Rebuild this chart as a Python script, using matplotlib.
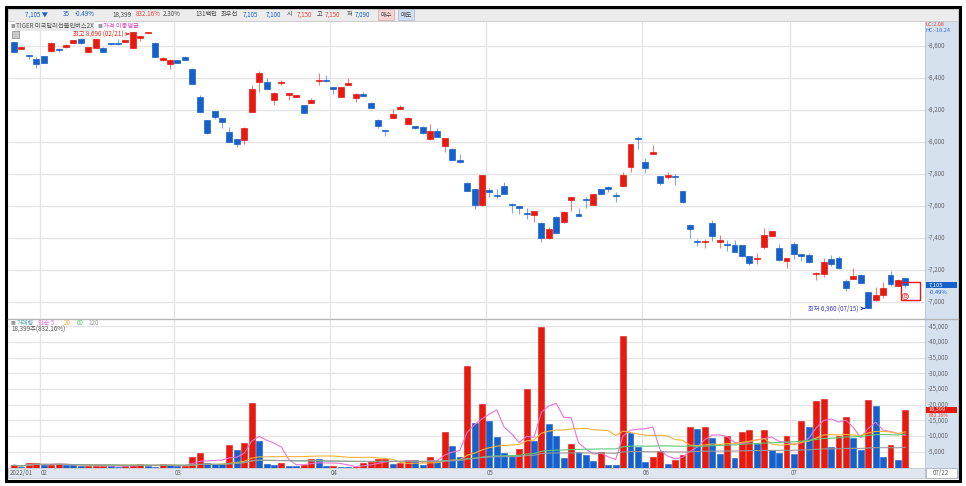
import numpy as np
import pandas as pd
import matplotlib
matplotlib.use('Agg')
import matplotlib.pyplot as plt
from matplotlib.patches import Rectangle

plt.rcParams['font.family'] = ['Noto Sans CJK KR', 'DejaVu Sans']

# --- data ---
opens = [8623, 8583, 8544, 8521, 8538, 8567, 8581, 8596, 8619, 8644,
         8563, 8590, 8590, 8615, 8613, 8628, 8590, 8648, 8683, 8621,
         8515, 8488, 8513, 8529, 8458, 8279, 8135, 8194, 8150, 8065,
         8019, 8012, 8190, 8373, 8373, 8263, 8370, 8296, 8283, 8229,
         8246, 8379, 8390, 8342, 8283, 8356, 8275, 8298, 8246, 8135,
         8071, 8150, 8206, 8113, 8100, 8092, 8017, 8069, 7975, 7958,
         7890, 7746, 7706, 7604, 7698, 7665, 7723, 7608, 7600, 7558,
         7544, 7496, 7402, 7533, 7498, 7640, 7542, 7646, 7608, 7706,
         7721, 7667, 7725, 7846, 8025, 7877, 7927, 7785, 7783, 7785,
         7692, 7483, 7381, 7375, 7494, 7373, 7360, 7356, 7356, 7285,
         7271, 7346, 7415, 7340, 7256, 7360, 7292, 7294, 7173, 7175,
         7271, 7275, 7129, 7144, 7171, 7060, 7010, 7042, 7171, 7102,
         7150]
closes = [8565, 8594, 8535, 8488, 8496, 8621, 8573, 8606, 8635, 8617,
          8594, 8644, 8563, 8610, 8610, 8633, 8686, 8660, 8685, 8533,
          8521, 8515, 8494, 8515, 8363, 8190, 8058, 8158, 8127, 8000,
          7988, 8090, 8329, 8433, 8331, 8308, 8375, 8304, 8294, 8183,
          8260, 8390, 8379, 8331, 8344, 8371, 8302, 8288, 8215, 8100,
          8069, 8177, 8221, 8150, 8085, 8058, 8067, 8033, 8023, 7888,
          7873, 7696, 7604, 7794, 7690, 7663, 7675, 7606, 7585, 7552,
          7569, 7402, 7456, 7433, 7565, 7654, 7540, 7635, 7675, 7675,
          7706, 7661, 7794, 7988, 8017, 7840, 7940, 7744, 7792, 7781,
          7623, 7456, 7377, 7379, 7415, 7388, 7356, 7315, 7285, 7242,
          7277, 7419, 7444, 7260, 7273, 7300, 7290, 7248, 7177, 7248,
          7238, 7210, 7088, 7160, 7119, 6965, 7044, 7090, 7115, 7140,
          7105]
highs = [8625, 8596, 8546, 8529, 8540, 8623, 8590, 8612, 8638, 8652,
         8596, 8646, 8592, 8617, 8644, 8640, 8690, 8662, 8686, 8623,
         8533, 8517, 8515, 8538, 8460, 8294, 8137, 8196, 8152, 8096,
         8021, 8092, 8356, 8444, 8400, 8310, 8390, 8306, 8296, 8231,
         8273, 8433, 8419, 8344, 8346, 8400, 8304, 8315, 8248, 8142,
         8071, 8206, 8231, 8158, 8102, 8098, 8115, 8090, 8025, 7960,
         7923, 7748, 7708, 7796, 7710, 7704, 7750, 7621, 7602, 7590,
         7571, 7498, 7471, 7535, 7567, 7656, 7590, 7654, 7677, 7708,
         7723, 7690, 7815, 7990, 8040, 7898, 7981, 7787, 7810, 7802,
         7694, 7485, 7392, 7394, 7512, 7419, 7390, 7390, 7358, 7287,
         7304, 7465, 7446, 7360, 7275, 7373, 7296, 7304, 7188, 7275,
         7296, 7290, 7146, 7212, 7173, 7062, 7096, 7123, 7196, 7142,
         7150]
lows = [8560, 8581, 8519, 8465, 8494, 8565, 8565, 8590, 8617, 8615,
        8561, 8588, 8561, 8608, 8608, 8625, 8585, 8633, 8681, 8531,
        8508, 8458, 8492, 8513, 8361, 8188, 8048, 8144, 8090, 7998,
        7971, 7985, 8188, 8313, 8329, 8231, 8356, 8263, 8281, 8181,
        8244, 8358, 8377, 8298, 8281, 8354, 8248, 8286, 8213, 8090,
        8038, 8148, 8204, 8111, 8083, 8052, 8010, 8031, 7940, 7886,
        7871, 7694, 7579, 7602, 7654, 7648, 7673, 7554, 7550, 7519,
        7502, 7377, 7394, 7431, 7496, 7571, 7538, 7585, 7606, 7673,
        7690, 7627, 7720, 7815, 7956, 7806, 7925, 7731, 7769, 7729,
        7621, 7398, 7350, 7340, 7381, 7340, 7321, 7313, 7283, 7231,
        7235, 7329, 7413, 7258, 7215, 7267, 7254, 7246, 7140, 7154,
        7227, 7208, 7067, 7142, 7117, 6960, 7005, 7025, 7100, 7100,
        7090]
volumes = [700, 300, 1500, 1550, 850, 900, 1100, 850, 640, 500,
           530, 560, 600, 420, 300, 420, 850, 1160, 320, 300,
           1060, 850, 420, 530, 3500, 4560, 1480, 1200, 1100, 7100,
           5600, 7840, 20460, 8590, 1060, 950, 1380, 530, 500, 950,
           2760, 2700, 320, 400, 300, 200, 300, 1480, 1800, 2650,
           2700, 1160, 1380, 2540, 2440, 950, 3390, 1900, 11240, 6900,
           3500, 32330, 14200, 20250, 14950, 9860, 4660, 4130, 5940, 25000,
           8370, 44730, 13890, 10070, 2970, 7420, 4880, 4030, 2010, 4980,
           950, 640, 41980, 10920, 6470, 1700, 3390, 5300, 1170, 2330,
           3920, 12930, 12300, 12930, 9540, 4240, 10180, 3180, 11340, 11870,
           7630, 11980, 5620, 4660, 9960, 4350, 14730, 12930, 21200, 21730,
           6570, 9960, 16000, 9430, 5510, 21400, 19700, 3500, 7200, 2230,
           18399]
vol_before = 500  # volume of the day before the first bar (sets first bar colour)

month_labels = ['2022/01', '02', '03', '04', '05', '06', '07']
month_start = [0, 4, 22, 43, 64, 85, 105]
price_ticks = [8600, 8400, 8200, 8000, 7800, 7600, 7400, 7200, 7000]
vol_ticks = [45000, 40000, 35000, 30000, 25000, 20000, 15000, 10000, 5000]
ma_windows = [5, 20, 60, 120]
ma_colors = ['#e873d8', '#f3b23c', '#5cc87a', '#9a9a9a']

RED = '#e8190e'
BLUE = '#1660cc'
W, H = 966, 486
FS = 4.5

n = len(closes)
x = np.arange(n)

def fx(px):
    return px / W

def fy(py):
    return 1 - py / H

def ax_rect(l, t, r, b):
    return [fx(l), fy(b), fx(r) - fx(l), fy(t) - fy(b)]

fig = plt.figure(figsize=(W / 100, H / 100), dpi=100)
fig.patch.set_facecolor('white')

step = 7.428
x0 = 14
def xlim_for(l, r):
    return ((l - x0) / step, (r - x0) / step)

# --- price panel ---
ax = fig.add_axes(ax_rect(8, 21, 925, 318))
ax.set_xlim(*xlim_for(8, 925))
ppx = 0.16  # pixels per won
ax.set_ylim(7000 - (318 - 302) / ppx, 8600 + (46 - 21) / ppx)
for p in price_ticks:
    ax.axhline(p, color='#e4e4e4', lw=0.9, zorder=0)
for m in month_start[1:]:
    ax.axvline(m - 0.5, color='#e4e4e4', lw=0.9, zorder=0)

for i in range(n):
    o, c, h, l = opens[i], closes[i], highs[i], lows[i]
    col = RED if c >= o else BLUE
    ax.vlines(i, l, h, color=col, lw=0.8, alpha=0.55, zorder=2)
    bot = min(o, c)
    ht = max(abs(c - o), 7)
    ax.add_patch(Rectangle((i - 0.4, bot), 0.8, ht, facecolor=col,
                           edgecolor=col, lw=0.5, zorder=3))
for s in ax.spines.values():
    s.set_visible(False)
ax.set_xticks([])
ax.set_yticks([])

# high / low annotations
imax = int(np.argmax(highs))
imin = int(np.argmin(lows))
ax.annotate('최고 %s (02/21)' % format(max(highs), ','), xy=(imax - 0.5, max(highs) - 15),
            xytext=(imax - 1.3, max(highs) - 15), fontsize=FS, color=RED, ha='right', va='center',
            arrowprops=dict(arrowstyle='->', color=RED, lw=0.7))
ax.annotate('최저 %s (07/15)' % format(min(lows), ','), xy=(imin - 0.5, min(lows)),
            xytext=(imin - 1.3, min(lows)), fontsize=FS, color='#3a3ad0', ha='right', va='center',
            arrowprops=dict(arrowstyle='->', color='#2020e0', lw=0.7))
ax.add_patch(Rectangle((n - 1.55, 7080 - 65), 2.5, 110, facecolor='none',
                       edgecolor=RED, lw=1.0, zorder=4))
ax.text(n - 1, 7035, 'B', fontsize=4, color=RED, ha='center', va='center',
        bbox=dict(boxstyle='circle,pad=0.1', fc='white', ec=RED, lw=0.5), zorder=5)

# --- volume panel ---
vx = fig.add_axes(ax_rect(8, 319, 925, 467.5))
vx.set_xlim(*xlim_for(8, 925))
vpx = 3.14 / 1000
vx.set_ylim(0, (467.5 - 319) / vpx)
for v in vol_ticks:
    vx.axhline(v, color='#e4e4e4', lw=0.9, zorder=0)
for m in month_start[1:]:
    vx.axvline(m - 0.5, color='#e4e4e4', lw=0.9, zorder=0)
prev = [vol_before] + volumes[:-1]
vcols = [RED if v >= p else BLUE for v, p in zip(volumes, prev)]
vx.bar(x, volumes, width=0.8, color=vcols, edgecolor=vcols, lw=0.4, zorder=3)
vs = pd.Series(volumes, dtype=float)
for w, col in zip(ma_windows, ma_colors):
    vx.plot(x, vs.rolling(w, min_periods=1).mean(), color=col, lw=0.8, zorder=4)
for s in vx.spines.values():
    s.set_visible(False)
vx.set_xticks([])
vx.set_yticks([])

# separator between panels
fig.add_artist(plt.Line2D([fx(8), fx(958)], [fy(318.5), fy(318.5)], color='#b5b5b5', lw=1))

# --- date strip ---
fig.add_artist(Rectangle((fx(8), fy(478)), fx(925) - fx(8), fy(467.5) - fy(478),
                         facecolor='#dfe6ef', edgecolor='#c4c9d0', lw=0.6))
for lab, m in zip(month_labels, month_start):
    px = x0 + step * (m - 0.5) + 1 if m > 0 else 10
    fig.text(fx(px), fy(473), lab, fontsize=FS, color='#666666', va='center', ha='left')

# --- right scale panel ---
fig.add_artist(Rectangle((fx(925), fy(478)), fx(958) - fx(925), fy(21) - fy(478),
                         facecolor='#d6e1ef', edgecolor='#b9c4d2', lw=0.6))
fig.add_artist(Rectangle((fx(926), fy(478)), fx(957) - fx(926), fy(467.5) - fy(478),
                         facecolor='white', edgecolor='#9aa4b0', lw=0.5))
fig.text(fx(941), fy(473), '07/22', fontsize=FS, color='#666666', va='center', ha='center')
fig.text(fx(926), fy(24.3), 'LC:2.08', fontsize=4, color='#e8463e', va='center', ha='left')
fig.text(fx(926), fy(30.7), 'HC:-18.24', fontsize=4, color='#3b72d8', va='center', ha='left')
for p in price_ticks:
    py = 302 - (p - 7000) * ppx
    fig.text(fx(928), fy(py), '-' + format(p, ','), fontsize=FS, color='#666666', va='center', ha='left')
for v in vol_ticks:
    py = 467.5 - v * vpx
    fig.text(fx(928), fy(py), '-' + format(v, ','), fontsize=FS, color='#666666', va='center', ha='left')

last_py = 302 - (closes[-1] - 7000) * ppx
fig.add_artist(Rectangle((fx(926), fy(last_py + 3)), fx(957) - fx(926), fy(last_py - 3) - fy(last_py + 3),
                         facecolor=BLUE, edgecolor='none'))
fig.text(fx(929), fy(last_py), format(closes[-1], ','), fontsize=4.2, color='white', va='center', ha='left')
chg = (closes[-1] - closes[-2]) / closes[-2] * 100
fig.text(fx(929), fy(last_py + 7.5), '%.2f%%' % chg, fontsize=4.2, color=BLUE, va='center', ha='left')

last_vy = 467.5 - volumes[-1] * vpx
fig.add_artist(Rectangle((fx(926), fy(last_vy + 2.8)), fx(957) - fx(926), fy(last_vy - 3.2) - fy(last_vy + 2.8),
                         facecolor=RED, edgecolor='none'))
fig.text(fx(929), fy(last_vy - 0.2), format(volumes[-1], ','), fontsize=4.0, color='white', va='center', ha='left')
fig.text(fx(929), fy(last_vy + 5.3), '832.16%', fontsize=3.6, color='#e8463e', va='center', ha='left')

# --- legends inside panels ---
fig.text(fx(11), fy(26), '■', fontsize=3.5, color='#999999', va='center')
fig.text(fx(16), fy(26), 'TIGER 미국달러선물인버스2X', fontsize=FS, color='#555555', va='center',
         bbox=dict(boxstyle='square,pad=0.1', fc='#e9e9e9', ec='none'))
fig.text(fx(98), fy(26), '■', fontsize=3.5, color='#999999', va='center')
fig.text(fx(103), fy(26), '가격 이동평균', fontsize=FS, color='#e040c0', va='center')
fig.add_artist(Rectangle((fx(12), fy(38)), fx(19) - fx(12), fy(31) - fy(38),
                         facecolor='#c8c8c8', edgecolor='#888888', lw=0.5))

fig.text(fx(11), fy(323), '■', fontsize=3.5, color='#999999', va='center')
leg = [('거래량', '#50a8b8'), ('단순 5', '#e873d8'), ('20', '#f3b23c'), ('60', '#5cc87a'), ('120', '#9a9a9a')]
lx = 17
for t, c in leg:
    fig.text(fx(lx), fy(323), t, fontsize=FS, color=c, va='center')
    lx += 5 + 3.8 * len(t) + (5 if any(ord(ch) > 0x3000 for ch in t) else 0)
fig.text(fx(11), fy(329.5), '18,399주(832.16%)', fontsize=FS, color='#555555', va='center')

# --- header bar ---
fig.add_artist(Rectangle((fx(8), fy(21)), fx(958) - fx(8), fy(9) - fy(21),
                         facecolor='#ececec', edgecolor='#c8c8c8', lw=0.6))
hdr = [(25, '7,105 ▼', BLUE), (63, '35', BLUE), (75, '-0.49%', BLUE), (112, '18,399', '#444444'),
       (136, '832.16%', '#e8463e'), (163, '2.30%', '#444444'), (195, '131백만', '#444444'),
       (221, '최우선', '#444444'), (243, '7,105', BLUE), (266, '7,100', BLUE), (287, '시', '#444444'),
       (297, '7,150', '#e8463e'), (317, '고', '#444444'), (325, '7,150', '#e8463e'),
       (347, '저', '#444444'), (355, '7,090', BLUE)]
for hx, t, c in hdr:
    fig.text(fx(hx), fy(14.5), t, fontsize=FS, color=c, va='center', ha='left')
fig.text(fx(386), fy(14.5), '매수', fontsize=FS, color='#444444', va='center', ha='center',
         bbox=dict(boxstyle='square,pad=0.3', fc='#f6d4d4', ec='#c8a8a8', lw=0.5))
fig.text(fx(406), fy(14.5), '매도', fontsize=FS, color='#444444', va='center', ha='center',
         bbox=dict(boxstyle='square,pad=0.3', fc='#cfe0f4', ec='#a8b8c8', lw=0.5))

# outer frame
fig.add_artist(Rectangle((fx(6), fy(481)), fx(960) - fx(6), fy(7) - fy(481),
                         facecolor='none', edgecolor='black', lw=2.2))

fig.savefig('out.png', dpi=100)
